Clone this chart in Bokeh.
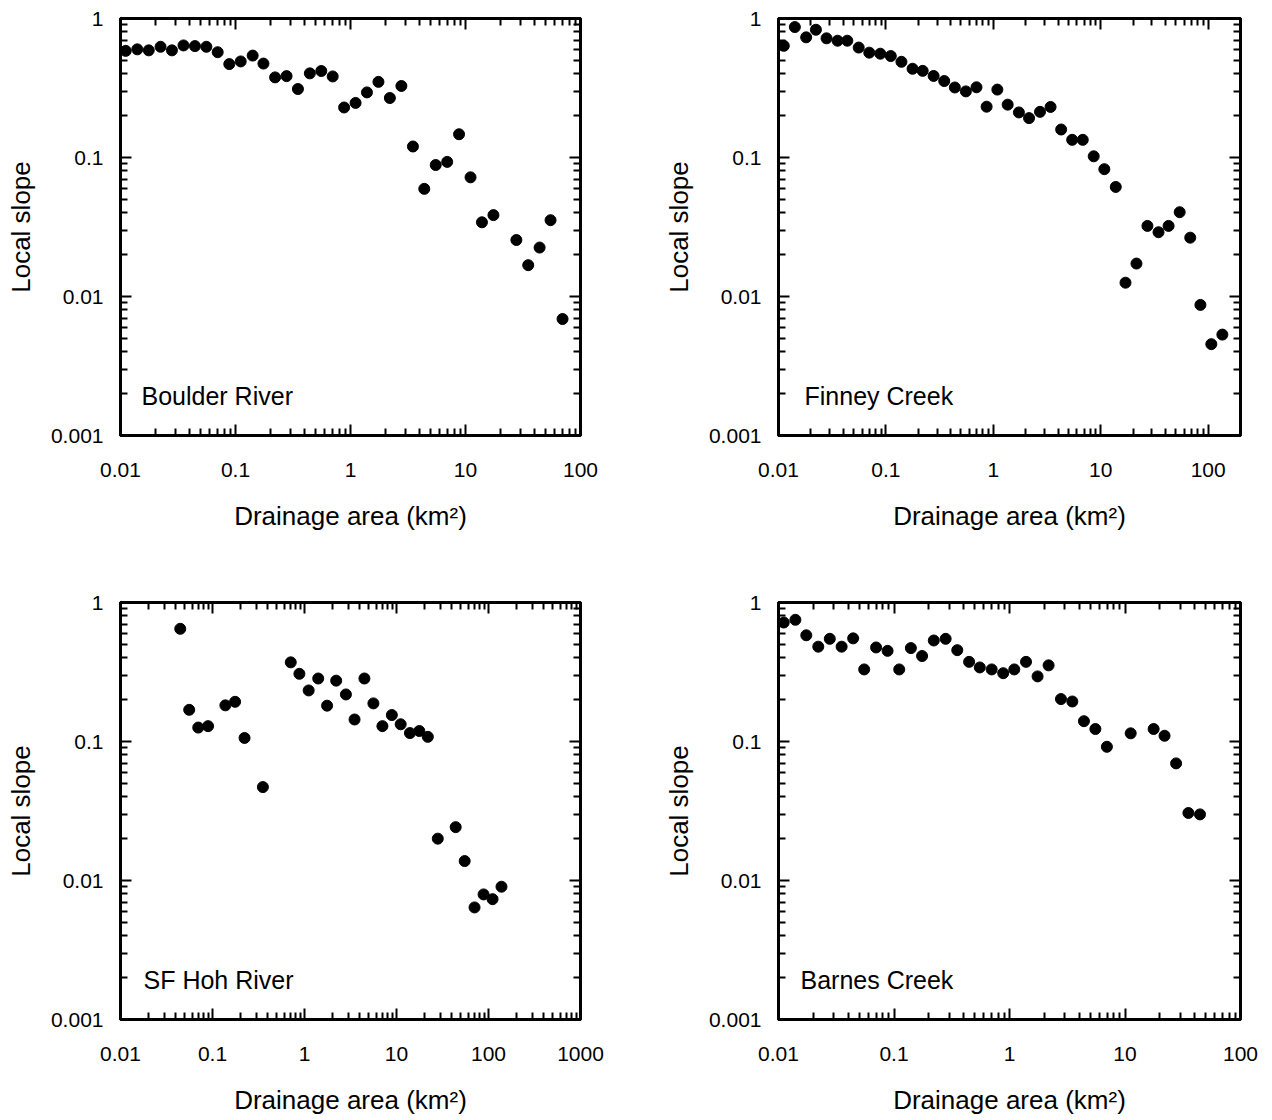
import math
from bokeh.plotting import figure
from bokeh.models import LogAxis, FixedTicker, CustomJSTickFormatter, Label, Range1d
from bokeh.layouts import row, column
from bokeh.embed import file_html
from bokeh.resources import INLINE

# ---------------- data ----------------
boulder_area = [0.0111, 0.014, 0.0176, 0.0223, 0.028, 0.0353, 0.0444, 0.0558, 0.070, 0.0883,
                0.111, 0.141, 0.175, 0.221, 0.278, 0.349, 0.443, 0.557, 0.70, 0.88,
                1.107, 1.39, 1.75, 2.2, 2.77, 3.49, 4.38, 5.51, 6.93, 8.79,
                11.06, 13.9, 17.5, 27.7, 35.1, 44.1, 54.9, 69.8]
boulder_slope = [0.585, 0.60, 0.59, 0.626, 0.59, 0.64, 0.633, 0.626, 0.572, 0.47,
                 0.491, 0.541, 0.474, 0.377, 0.385, 0.311, 0.403, 0.419, 0.383, 0.229,
                 0.247, 0.294, 0.35, 0.268, 0.327, 0.12, 0.0595, 0.0883, 0.093, 0.147,
                 0.072, 0.0342, 0.0385, 0.0255, 0.0168, 0.0225, 0.0354, 0.00689]

finney_area = [0.0112, 0.0142, 0.0181, 0.0223, 0.028, 0.0355, 0.0437, 0.0558, 0.070, 0.0887,
               0.111, 0.1395, 0.177, 0.22, 0.278, 0.349, 0.438, 0.555, 0.697, 0.866,
               1.09, 1.36, 1.73, 2.15, 2.72, 3.41, 4.28, 5.42, 6.8, 8.6,
               10.8, 13.8, 17.0, 21.5, 27.2, 34.5, 42.8, 54.3, 68.1, 84.7, 107, 135.6]
finney_slope = [0.636, 0.868, 0.732, 0.83, 0.72, 0.692, 0.692, 0.618, 0.568, 0.558,
                0.537, 0.488, 0.435, 0.42, 0.386, 0.355, 0.319, 0.299, 0.32, 0.232,
                0.308, 0.24, 0.211, 0.192, 0.213, 0.231, 0.159, 0.134, 0.134, 0.102,
                0.0824, 0.0614, 0.01257, 0.01726, 0.0322, 0.029, 0.0322, 0.0404, 0.0265, 0.0087,
                0.00454, 0.00532]

hoh_area = [0.0446, 0.0558, 0.070, 0.0895, 0.138, 0.176, 0.223, 0.353, 0.709, 0.88,
            1.11, 1.41, 1.76, 2.21, 2.82, 3.5, 4.48, 5.61, 7.03, 8.9,
            11.1, 14.0, 17.7, 21.9, 28.1, 44.0, 55.1, 70.5, 88.4, 110.7, 138.4]
hoh_slope = [0.647, 0.169, 0.126, 0.129, 0.182, 0.193, 0.106, 0.047, 0.371, 0.307,
             0.233, 0.284, 0.181, 0.274, 0.218, 0.144, 0.284, 0.188, 0.129, 0.155,
             0.133, 0.115, 0.119, 0.108, 0.020, 0.0242, 0.0138, 0.0064, 0.00794, 0.00734, 0.00902]

barnes_area = [0.0111, 0.014, 0.0174, 0.0221, 0.0278, 0.0352, 0.0443, 0.0552, 0.070, 0.088,
               0.111, 0.14, 0.175, 0.221, 0.28, 0.353, 0.447, 0.553, 0.701, 0.882,
               1.1, 1.39, 1.75, 2.18, 2.79, 3.5, 4.41, 5.54, 6.97, 11.2,
               17.7, 22.0, 27.7, 35.4, 44.6]
barnes_slope = [0.718, 0.751, 0.581, 0.481, 0.548, 0.481, 0.552, 0.33, 0.475, 0.449,
                0.33, 0.47, 0.412, 0.533, 0.548, 0.454, 0.374, 0.341, 0.33, 0.31,
                0.33, 0.374, 0.294, 0.353, 0.202, 0.194, 0.14, 0.123, 0.0916, 0.1145,
                0.123, 0.11, 0.0696, 0.0306, 0.0299]

panel_names = ["Boulder River", "Finney Creek", "SF Hoh River", "Barnes Creek"]
x_label = "Drainage area (km\u00b2)"
y_label = "Local slope"
y_limits = (0.001, 1)
x_limits = [(0.01, 100), (0.01, 200), (0.01, 1000), (0.01, 100)]

FONT = "Liberation Sans"


def log_ticks(lo_exp, hi_exp):
    major = [float("1e%d" % k) for k in range(lo_exp, hi_exp + 1)]
    minor = [float("%de%d" % (m, k)) for k in range(lo_exp, hi_exp + 1) for m in range(2, 10)]
    return major, minor


def style_axis(ax, major, minor, labelled):
    ax.ticker = FixedTicker(ticks=major, minor_ticks=minor)
    ax.major_tick_in = 11
    ax.major_tick_out = 0
    ax.minor_tick_in = 7
    ax.minor_tick_out = 0
    ax.axis_line_width = 3
    ax.axis_line_color = "black"
    ax.major_tick_line_width = 2
    ax.minor_tick_line_width = 2
    ax.major_tick_line_color = "black"
    ax.minor_tick_line_color = "black"
    if labelled:
        ax.formatter = CustomJSTickFormatter(code="return tick.toString();")
        ax.major_label_text_font = FONT
        ax.major_label_text_font_size = "21px"
        ax.major_label_text_color = "black"
        ax.axis_label_text_font = FONT
        ax.axis_label_text_font_size = "26px"
        ax.axis_label_text_font_style = "normal"
        ax.axis_label_text_color = "black"
    else:
        ax.formatter = CustomJSTickFormatter(code="return '';")
        ax.major_label_text_font_size = "1px"
        ax.major_label_standoff = 0


def make_panel(area, slope, name, xlim, width, height, left, right, top, bottom, lab_dx):
    p = figure(width=width, height=height, x_axis_type="log", y_axis_type="log",
               x_range=Range1d(*xlim), y_range=Range1d(*y_limits),
               output_backend="svg", toolbar_location=None,
               min_border_left=left, min_border_right=right,
               min_border_top=top, min_border_bottom=bottom)
    p.grid.visible = False
    p.outline_line_color = "black"
    p.outline_line_width = 3
    p.background_fill_color = "white"
    p.border_fill_color = "white"

    xmaj, xmin = log_ticks(int(round(math.log10(xlim[0]))), int(math.ceil(math.log10(xlim[1]))))
    ymaj, ymin = log_ticks(-3, 0)

    p.add_layout(LogAxis(), "above")
    p.add_layout(LogAxis(), "right")

    style_axis(p.below[0], xmaj, xmin, True)
    style_axis(p.left[0], ymaj, ymin, True)
    style_axis(p.above[0], xmaj, xmin, False)
    style_axis(p.right[0], ymaj, ymin, False)

    p.below[0].axis_label = x_label
    p.below[0].major_label_standoff = 27
    p.below[0].axis_label_standoff = 21
    p.left[0].axis_label = y_label
    p.left[0].major_label_standoff = 17
    p.left[0].axis_label_standoff = 12

    p.scatter(x=area, y=slope, size=11, marker="circle",
              fill_color="black", line_color="black")

    p.add_layout(Label(x=lab_dx, y=40, x_units="screen", y_units="screen", text=name,
                       text_font=FONT, text_font_size="25px", text_color="black",
                       text_baseline="alphabetic"))
    return p


p1 = make_panel(boulder_area, boulder_slope, panel_names[0], x_limits[0], 640, 560, 120, 60, 18, 125, 21)
p2 = make_panel(finney_area, finney_slope, panel_names[1], x_limits[1], 628, 560, 138, 28, 18, 125, 26)
p3 = make_panel(hoh_area, hoh_slope, panel_names[2], x_limits[2], 640, 558, 120, 60, 42, 99, 23)
p4 = make_panel(barnes_area, barnes_slope, panel_names[3], x_limits[3], 628, 558, 138, 28, 42, 99, 22)

layout = column(row(p1, p2), row(p3, p4))

open("out.html", "w").write(file_html(layout, INLINE))
